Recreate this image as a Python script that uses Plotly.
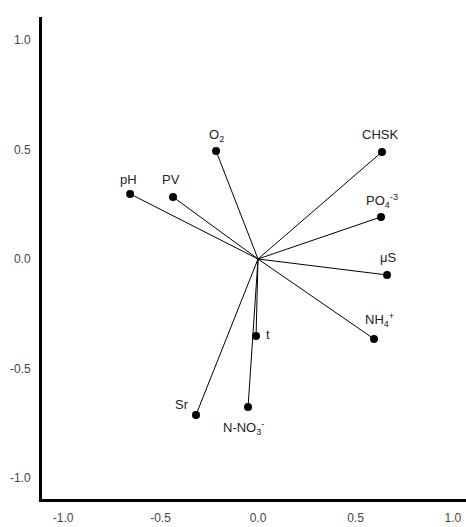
import plotly.graph_objects as go

# Data (loadings)
labels = ["O<sub>2</sub>", "CHSK", "PV", "PO<sub>4</sub><sup>-3</sup>", "pH", "μS",
          "NH<sub>4</sub><sup>+</sup>", "t", "N-NO<sub>3</sub><sup>-</sup>", "Sr"]
xs = [-0.215, 0.636, -0.436, 0.631, -0.656, 0.662, 0.595, -0.010, -0.051, -0.318]
ys = [0.493, 0.489, 0.283, 0.192, 0.297, -0.073, -0.365, -0.352, -0.676, -0.712]
tick_vals = [-1.0, -0.5, 0.0, 0.5, 1.0]
tick_text = ["-1.0", "-0.5", "0.0", "0.5", "1.0"]

# label offsets in pixels (style)
label_shift = [(0, 16), (-2, 17), (-2, 18), (1, 16), (-2, 14), (1, 17),
               (6, 19), (12, 2), (-5, -21), (-14, 10)]

lx, ly = [], []
for x, y in zip(xs, ys):
    lx += [0, x, None]
    ly += [0, y, None]

fig = go.Figure()
fig.add_trace(go.Scatter(x=lx, y=ly, mode="lines",
                         line=dict(color="black", width=1), hoverinfo="skip",
                         showlegend=False))
fig.add_trace(go.Scatter(x=xs, y=ys, mode="markers",
                         marker=dict(color="black", size=8), showlegend=False))

for lab, x, y, (dx, dy) in zip(labels, xs, ys, label_shift):
    fig.add_annotation(x=x, y=y, text=lab, showarrow=False, xshift=dx, yshift=dy,
                       font=dict(family="Liberation Sans, Arial", size=13, color="#222"))

fig.update_layout(
    width=466, height=527,
    margin=dict(l=42, r=0, t=17, b=28),
    plot_bgcolor="white", paper_bgcolor="white",
    font=dict(family="Liberation Sans, Arial", size=12, color="#444"),
)
fig.update_xaxes(range=[-1.108, 1.067], tickvals=tick_vals, ticktext=tick_text,
                 showgrid=False, zeroline=False, showline=True, linecolor="black",
                 linewidth=3, ticks="", ticklabelstandoff=6)
fig.update_yaxes(range=[-1.096, 1.105], tickvals=tick_vals, ticktext=tick_text,
                 showgrid=False, zeroline=False, showline=True, linecolor="black",
                 linewidth=3, ticks="", ticklabelstandoff=6)

fig.write_html("out.html")
